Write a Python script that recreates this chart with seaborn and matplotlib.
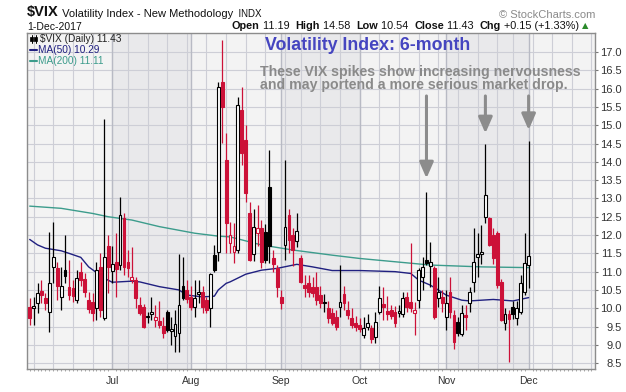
import matplotlib
matplotlib.use("Agg")
import matplotlib.pyplot as plt
import numpy as np
import pandas as pd
import seaborn as sns

# trading days shown on the chart (2-Jun-2017 .. 1-Dec-2017)
holidays = ["2017-07-04", "2017-09-04", "2017-11-23"]
dates = pd.bdate_range("2017-06-02", "2017-12-01").drop(pd.to_datetime(holidays))

prev_close_start = 9.89  # close of 1-Jun-2017

opens = [10.04, 10.02, 10.14, 10.48, 10.28, 9.90, 11.13, 11.10, 10.31, 11.04,
         10.59, 10.55, 10.22, 11.00, 10.80, 10.22, 10.18, 10.00, 11.13, 9.73,
         11.71, 11.03, 11.25, 11.18, 12.46, 11.27, 10.77, 10.77, 10.09, 10.04,
         9.75, 9.85, 9.68, 9.66, 9.51, 9.91, 9.38, 9.24, 9.32, 10.60,
         10.50, 10.31, 10.04, 10.40, 10.45, 10.22, 10.00, 11.45, 11.54, 16.19,
         14.05, 11.79, 11.54, 11.60, 15.42, 14.60, 12.61, 11.48, 12.06, 12.19,
         12.09, 13.32, 11.37, 11.10, 10.31, 11.73, 12.55, 12.00, 11.84, 11.37,
         10.63, 10.69, 10.59, 10.59, 10.36, 10.14, 10.00, 9.87, 9.77, 10.04,
         10.39, 9.95, 9.72, 9.60, 9.54, 9.27, 9.49, 9.45, 9.22, 9.90,
         10.11, 9.92, 9.95, 9.90, 9.88, 9.85, 10.31, 10.18, 9.88, 10.22,
         10.86, 11.32, 11.15, 11.09, 10.27, 10.31, 9.75, 10.45, 9.81, 9.63,
         9.30, 9.79, 10.15, 10.72, 11.39, 11.48, 12.50, 12.46, 12.00, 12.05,
         10.72, 9.59, 9.84, 10.04, 9.72, 9.90, 10.45, 11.19]
highs = [10.28, 10.31, 10.69, 10.77, 10.41, 12.09, 12.36, 11.27, 11.13, 12.00,
         11.32, 10.77, 11.04, 11.27, 10.95, 10.45, 10.41, 11.27, 11.50, 15.17,
         12.00, 11.70, 12.05, 13.05, 12.60, 11.60, 11.68, 10.86, 10.30, 10.12,
         9.90, 10.31, 10.10, 10.20, 9.77, 9.95, 9.77, 9.95, 11.48, 11.41,
         10.77, 10.60, 10.77, 10.77, 10.60, 10.31, 10.96, 11.73, 16.19, 17.33,
         14.78, 12.36, 12.33, 15.78, 16.05, 15.00, 12.91, 12.70, 12.82, 12.41,
         12.30, 14.32, 11.60, 11.18, 10.50, 14.05, 12.70, 12.20, 12.61, 11.45,
         10.91, 10.91, 10.85, 11.00, 10.60, 10.40, 10.20, 10.00, 9.95, 11.18,
         10.60, 10.20, 10.00, 9.80, 9.72, 9.75, 9.85, 9.55, 9.90, 10.60,
         10.59, 10.33, 10.10, 10.05, 10.10, 10.45, 10.45, 11.78, 10.18, 11.10,
         11.40, 13.18, 11.82, 11.15, 10.86, 10.50, 10.50, 10.86, 9.95, 9.75,
         10.10, 10.09, 10.59, 12.18, 12.05, 12.27, 14.50, 12.50, 12.20, 12.10,
         10.80, 10.00, 9.95, 10.20, 10.20, 10.90, 12.05, 14.58]
lows = [9.54, 9.54, 9.87, 10.14, 9.95, 9.35, 10.69, 10.22, 9.95, 10.69,
        10.22, 10.18, 10.14, 10.60, 10.30, 9.87, 9.65, 9.68, 9.77, 9.68,
        10.41, 10.70, 10.31, 11.04, 10.90, 10.85, 10.69, 10.00, 9.82, 9.45,
        9.60, 9.68, 9.50, 9.47, 9.20, 9.35, 9.00, 8.81, 8.81, 10.22,
        10.13, 9.95, 9.77, 10.14, 9.86, 9.86, 9.49, 11.00, 11.30, 14.51,
        11.50, 11.50, 11.23, 11.50, 13.90, 12.90, 11.30, 11.30, 11.69, 11.10,
        11.23, 11.23, 11.00, 10.31, 9.98, 11.32, 11.50, 11.15, 11.68, 10.68,
        10.31, 10.30, 10.30, 10.10, 10.00, 9.90, 9.60, 9.55, 9.40, 9.75,
        9.95, 9.70, 9.45, 9.38, 9.35, 9.20, 9.40, 9.05, 9.05, 9.85,
        9.68, 9.68, 9.70, 9.50, 9.75, 9.75, 9.90, 9.90, 9.27, 10.00,
        10.50, 11.18, 10.59, 9.70, 10.04, 9.90, 9.40, 9.72, 8.90, 9.25,
        9.25, 9.40, 9.90, 10.45, 10.86, 11.20, 12.32, 11.70, 11.20, 10.55,
        9.65, 9.40, 8.54, 9.70, 9.55, 9.85, 10.36, 10.54]
closes = [9.72, 10.06, 10.41, 10.36, 10.14, 10.69, 11.41, 10.61, 10.62, 10.88,
          10.36, 10.33, 10.82, 10.77, 10.45, 9.98, 9.87, 11.04, 9.95, 11.41,
          11.13, 11.20, 11.07, 12.55, 11.13, 11.10, 10.86, 10.28, 9.87, 9.49,
          9.77, 9.87, 9.77, 9.54, 9.33, 9.40, 9.42, 9.57, 10.09, 10.27,
          10.26, 10.04, 10.28, 10.43, 10.04, 9.95, 10.93, 11.04, 16.04, 15.50,
          12.33, 11.99, 11.69, 15.55, 14.24, 13.15, 11.32, 12.23, 12.19, 11.27,
          11.32, 11.70, 11.22, 10.59, 10.13, 12.23, 11.86, 11.59, 12.10, 10.72,
          10.54, 10.45, 10.41, 10.22, 10.14, 10.16, 9.73, 9.60, 9.49, 10.18,
          10.14, 9.81, 9.54, 9.49, 9.42, 9.47, 9.60, 9.17, 9.62, 10.29,
          10.04, 9.83, 9.80, 9.60, 9.90, 10.28, 10.04, 10.00, 9.95, 11.04,
          11.12, 11.23, 11.25, 9.77, 10.45, 10.13, 10.15, 9.90, 9.08, 9.33,
          9.88, 9.77, 10.45, 11.25, 11.48, 11.54, 13.09, 11.73, 11.36, 10.63,
          9.68, 9.84, 9.70, 9.84, 10.00, 10.69, 11.23, 11.43]

# moving averages (trading-day position, value)
ma50_pos = [0, 2, 4, 8, 10, 13, 15, 19, 21, 26, 28, 33, 38, 40, 44, 47, 48, 50, 51,
            55, 59, 63, 68, 72, 77, 84, 93, 97, 99, 102, 104, 106, 110, 112, 118, 123, 127]
ma50_val = [11.88, 11.73, 11.64, 11.57, 11.50, 11.39, 11.13, 10.82, 10.71, 10.74, 10.72,
            10.59, 10.50, 10.36, 10.31, 10.33, 10.50, 10.68, 10.72, 10.93, 11.04, 11.09,
            11.20, 11.13, 11.03, 11.03, 11.00, 10.95, 10.77, 10.63, 10.50, 10.36, 10.22,
            10.20, 10.24, 10.20, 10.29]
ma200_pos = [0, 8, 16, 20, 26, 33, 42, 48, 51, 59, 67, 77, 84, 93, 97, 102, 115, 127]
ma200_val = [12.79, 12.73, 12.59, 12.50, 12.41, 12.23, 12.05, 11.97, 11.95, 11.73,
             11.59, 11.45, 11.36, 11.27, 11.23, 11.18, 11.13, 11.11]

spike_days = ["2017-10-25", "2017-11-15", "2017-12-01"]
spike_tips = [13.55, 14.78, 14.87]

RED = "#cc1138"
NAVY = "#202080"
TEAL = "#3c9c8c"
W, H = 626, 392

df = pd.DataFrame({"date": dates, "open": opens, "high": highs,
                   "low": lows, "close": closes})
df["pos"] = np.arange(len(df))
prev = df["close"].shift(1).fillna(prev_close_start)
df["color"] = np.where(df["close"] >= prev, "black", RED)
df["hollow"] = df["close"] > df["open"]

sns.set_theme(style="white")
plt.rcParams["font.family"] = ["Liberation Sans", "DejaVu Sans"]

fig = plt.figure(figsize=(W / 100, H / 100), dpi=100)
fig.patch.set_facecolor("white")
ax = fig.add_axes([27 / W, 1 - 369 / H, (595 - 27) / W, (369 - 33) / H])
ax.set_facecolor("#f3f3f3")
ax.set_xlim(-0.69, 143.9)
ax.set_ylim(8.34, 17.52)

# month shading and grid
month_start = [i for i in range(1, len(df)) if dates[i].month != dates[i - 1].month]
week_start = [i for i in range(1, len(df)) if dates[i].weekday() < dates[i - 1].weekday()]
bounds = month_start + [143.9]
for k, m in enumerate(month_start):
    if dates[m].month in (7, 9, 11):
        ax.axvspan(m, bounds[k + 1], color="#e9e9eb", zorder=0, lw=0)
for yv in np.arange(8.5, 17.01, 0.5):
    ax.axhline(yv, color="#cdced6", lw=0.8, zorder=1)
future_weeks = list(range(week_start[-1] + 5, 144, 5))
for w in week_start + future_weeks:
    ax.axvline(w, color="#cdced6", lw=0.8, zorder=1)
for m in month_start:
    ax.axvline(m, color="#b8bac4", lw=1.0, zorder=1)

# moving averages
sns.lineplot(x=ma200_pos, y=ma200_val, ax=ax, color=TEAL, lw=1.0, zorder=2)
sns.lineplot(x=ma50_pos, y=ma50_val, ax=ax, color=NAVY, lw=1.0, zorder=2)

# candles
ax.vlines(df["pos"], df["low"], df["high"], colors=df["color"], lw=0.9, zorder=3)
body_lo = df[["open", "close"]].min(axis=1)
body_h = (df["close"] - df["open"]).abs().clip(lower=0.04)
faces = np.where(df["hollow"], "white", df["color"])
ax.bar(df["pos"], body_h, bottom=body_lo, width=0.72, color=faces,
       edgecolor=df["color"], linewidth=0.8, zorder=4)

# axes styling
for s in ax.spines.values():
    s.set_color("#8c8c8c")
    s.set_linewidth(1.0)
ax.yaxis.tick_right()
ax.set_yticks(np.arange(8.5, 17.01, 0.5))
ax.set_yticklabels([f"{v:.1f}" for v in np.arange(8.5, 17.01, 0.5)])
for lbl in ax.get_yticklabels():
    lbl.set_horizontalalignment("right")
ax.tick_params(axis="y", right=True, length=2.5, width=0.8, color="#777777",
               pad=17, labelsize=8, labelcolor="#333333")
ax.set_xticks(month_start)
ax.set_xticklabels([dates[m].strftime("%b") for m in month_start])
ax.set_xticks(range(0, 144), minor=True)
ax.tick_params(axis="x", which="major", length=0, pad=5, labelsize=7.5,
               labelcolor="#333333")
ax.tick_params(axis="x", which="minor", bottom=True, length=1.5, width=0.6,
               color="#999999")
ax.set_xlabel("")
ax.set_ylabel("")

# spike arrows
for d, tip in zip(spike_days, spike_tips):
    p = int(df.index[df["date"] == pd.Timestamp(d)][0])
    ax.annotate("", xy=(p, tip), xytext=(p, 15.8),
                arrowprops=dict(arrowstyle="-|>,head_width=0.35,head_length=0.8",
                                color="#8c8c8c", lw=2.2, shrinkA=0, shrinkB=0),
                zorder=6)

def fx(px):
    return px / W

def fy(py):
    return 1 - py / H

# texts inside the plot
fig.text(fx(265), fy(45), "Volatility Index: 6-month", fontsize=12.8,
         fontweight="bold", color="#4545c0", va="center")
fig.text(fx(260), fy(72), "These VIX spikes show increasing nervousness",
         fontsize=10.2, fontweight="bold", color="#8a8a8a", va="center")
fig.text(fx(260), fy(85), "and may portend a more serious market drop.",
         fontsize=10.2, fontweight="bold", color="#8a8a8a", va="center")

# legend block
fig.text(fx(40), fy(38.5), "$VIX (Daily) 11.43", fontsize=7.3, color="#222222", va="center")
fig.text(fx(38.5), fy(50), "MA(50) 10.29", fontsize=7.3, color=NAVY, va="center")
fig.text(fx(38.5), fy(61), "MA(200) 11.11", fontsize=7.3, color=TEAL, va="center")
fig.add_artist(plt.Line2D([fx(30), fx(37)], [fy(50), fy(50)], color=NAVY, lw=1.5))
fig.add_artist(plt.Line2D([fx(30), fx(37)], [fy(61), fy(61)], color=TEAL, lw=1.5))
for cx in (31.5, 35.5):
    fig.add_artist(plt.Line2D([fx(cx), fx(cx)], [fy(35), fy(43)], color="black", lw=0.7))
    fig.add_artist(plt.Rectangle((fx(cx - 1.3), fy(41)), 2.6 / W, 4 / H,
                                 facecolor="black", edgecolor="black", lw=0.5))

# header
t = fig.text(fx(27), fy(19), "$VIX", fontsize=10.5, fontweight="bold",
             color="#111111", va="bottom")
prev_txt = t
for s, size in [(" Volatility Index - New Methodology", 8), ("  INDX", 7)]:
    prev_txt = ax.annotate(s, xy=(1, 0), xycoords=prev_txt, fontsize=size,
                           color="#111111", va="bottom", annotation_clip=False)
fig.text(fx(27), fy(26.5), "1-Dec-2017", fontsize=7.5, color="#111111", va="center")
fig.text(fx(595), fy(15), "\u00a9 StockCharts.com", fontsize=8, color="#8a8a8a",
         va="center", ha="right")

parts = [("Open", True), (" 11.19  ", False), ("High", True), (" 14.58  ", False),
         ("Low", True), (" 10.54  ", False), ("Close", True), (" 11.43  ", False),
         ("Chg", True), (" +0.15 (+1.33%) ", False)]
prev_txt = fig.text(fx(232), fy(31), "", fontsize=7.8, va="bottom")
for s, bold in parts:
    prev_txt = ax.annotate(s, xy=(1, 0), xycoords=prev_txt, fontsize=7.8,
                           fontweight="bold" if bold else "normal",
                           color="#111111", va="bottom", annotation_clip=False)
ax.annotate("\u25b2", xy=(1, 0.1), xycoords=prev_txt, fontsize=6, color="#2a8a2a",
            va="bottom", annotation_clip=False, family="DejaVu Sans")

fig.savefig("out.png", dpi=100)
